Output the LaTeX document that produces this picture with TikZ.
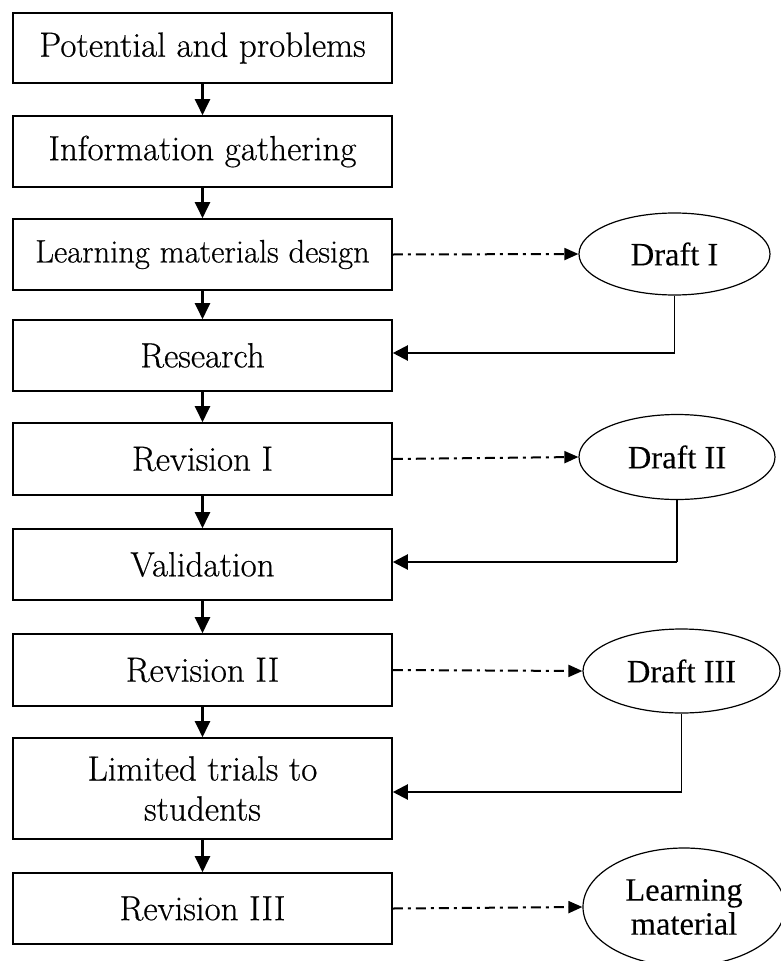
\documentclass[tikz,border=0pt]{standalone}
\usepackage{fontspec}
\setmainfont{Liberation Serif}
\newfontfamily\palat[FakeBold=0.5]{Latin Modern Roman}
\newfontfamily\timesf[FakeBold=0.1]{Liberation Serif}
\usetikzlibrary{shapes.geometric,arrows.meta}
\tikzset{
  box/.style={draw, line width=1.6pt, minimum width=379pt, inner sep=0pt,
    font=\palat\fontsize{35}{40}\selectfont, align=center},
  oval/.style={draw, ellipse, line width=1.2pt, inner sep=0pt,
    font=\timesf\fontsize{32.5}{34}\selectfont, align=center},
  flow/.style={line width=2.2pt, -{Triangle[length=16pt,width=15pt]}},
  dd/.style={line width=2pt, dash pattern=on 10pt off 5pt on 3pt off 5pt,
    -{Triangle[length=14pt,width=12pt]}},
  fb/.style={line width=2.2pt, -{Triangle[length=15pt,width=15pt]}},
  fbv/.style={line width=1.2pt}
}
\begin{document}
\begin{tikzpicture}[x=1pt,y=-1pt]
\useasboundingbox (0,0) rectangle (781,961);
% main boxes
\node[box, minimum height=70pt] (b1) at (202.5,48) {Potential and problems};
\node[box, minimum height=71pt] (b2) at (202.5,151.5) {Information gathering};
\node[box, minimum height=71pt, font=\palat\fontsize{32.5}{34}\selectfont] (b3) at (202.5,254.5) {Learning materials design};
\node[box, minimum height=71pt] (b4) at (202.5,355.5) {Research};
\node[box, minimum height=72pt] (b5) at (202.5,459) {Revision I};
\node[box, minimum height=71pt] (b6) at (202.5,564.5) {Validation};
\node[box, minimum height=72pt] (b7) at (202.5,670) {Revision II};
\node[box, minimum height=101pt] (b8) at (202.5,788.5) {Limited trials to\\students};
\node[box, minimum height=71pt] (b9) at (202.5,908.5) {Revision III};
% ovals
\node[oval, minimum width=191pt, minimum height=82pt] (d1) at (674.5,254) {Draft I};
\node[oval, minimum width=196pt, minimum height=85pt] (d2) at (677,457) {Draft II};
\node[oval, minimum width=197pt, minimum height=84pt] (d3) at (681.5,671) {Draft III};
\node[oval, minimum width=202pt, minimum height=118pt] (lm) at (684,907) {Learning\\material};
% vertical flow
\draw[flow] (b1) -- (b2);
\draw[flow] (b2) -- (b3);
\draw[flow] (b3) -- (b4);
\draw[flow] (b4) -- (b5);
\draw[flow] (b5) -- (b6);
\draw[flow] (b6) -- (b7);
\draw[flow] (b7) -- (b8);
\draw[flow] (b8) -- (b9);
% dashed outputs
\draw[dd] (b3.east) -- (d1.west);
\draw[dd] (b5.east) -- (d2.west);
\draw[dd] (b7.east) -- (d3.west);
\draw[dd] (b9.east) -- (lm.west);
% feedback
\coordinate (c1) at (d1.south |- 0,353);
\coordinate (c2) at (d2.south |- 0,562);
\coordinate (c3) at (d3.south |- 0,792);
\draw[fbv] (d1.south) -- (c1);
\draw[fb] (c1) -- (c1 -| b4.east);
\draw[fbv] (d2.south) -- (c2);
\draw[fb] (c2) -- (c2 -| b6.east);
\draw[fbv] (d3.south) -- (c3);
\draw[fb] (c3) -- (c3 -| b8.east);
\end{tikzpicture}
\end{document}
